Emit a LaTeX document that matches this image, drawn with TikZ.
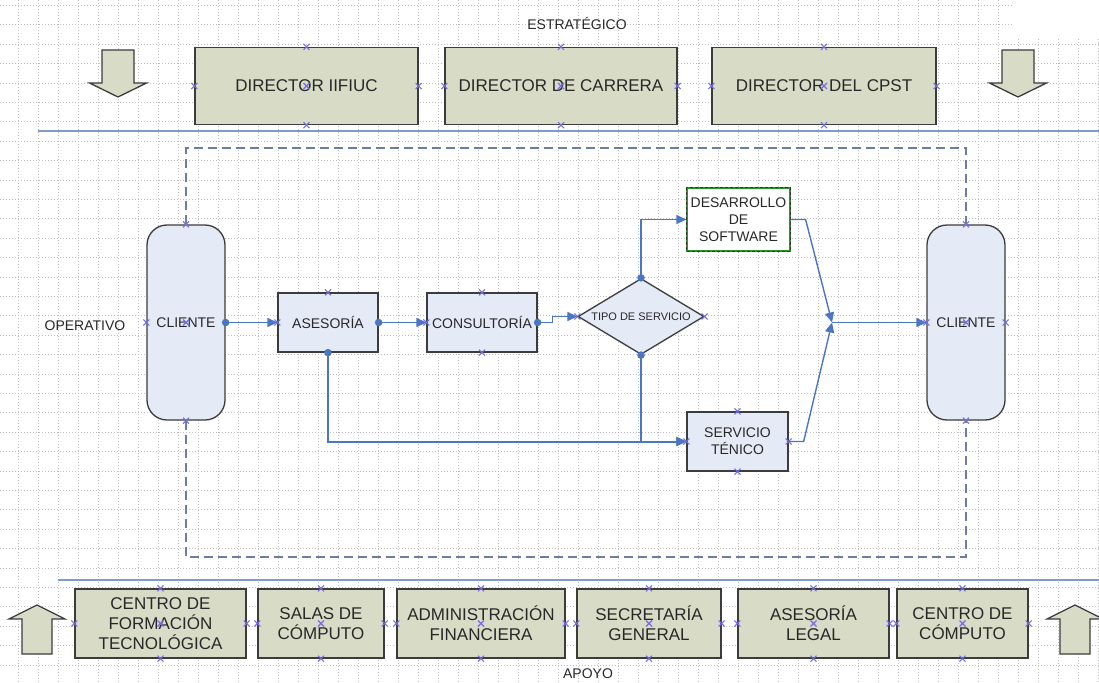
\documentclass[tikz,border=0pt]{standalone}
\usepackage{fontspec}
\setmainfont{Liberation Sans}
\usetikzlibrary{shapes.geometric,arrows.meta}

\definecolor{gridc}{RGB}{190,190,190}
\definecolor{olivef}{RGB}{216,220,198}
\definecolor{procf}{RGB}{228,234,246}
\definecolor{edgec}{RGB}{60,60,60}
\definecolor{txtc}{RGB}{40,40,40}
\definecolor{flowc}{RGB}{74,118,196}
\definecolor{sepc}{RGB}{125,155,205}
\definecolor{dashc}{RGB}{105,125,165}
\definecolor{xcol}{RGB}{115,110,225}
\definecolor{greenc}{RGB}{40,150,40}

\begin{document}
\begin{tikzpicture}[x=1pt,y=-1pt,
  gridline/.style={gridc,line width=0.5pt,dash pattern=on 1pt off 2pt},
  orgbox/.style={draw=edgec,line width=1.3pt,fill=olivef,text=txtc,
    font=\fontsize{17}{20}\selectfont,align=center,inner sep=0pt},
  procbox/.style={draw=edgec,line width=1.3pt,fill=procf,text=txtc,
    font=\fontsize{14}{17}\selectfont,align=center,inner sep=0pt},
  clientbox/.style={procbox,rounded corners=20pt,minimum width=78pt,minimum height=195pt},
  label/.style={text=txtc,font=\fontsize{14}{17}\selectfont},
  flow/.style={draw=flowc,line width=1.4pt},
  arr/.style={-{Triangle[length=10pt,width=9pt]}},
  sepline/.style={draw=sepc,line width=1.5pt},
  frame/.style={draw=dashc,line width=1.4pt,dash pattern=on 9pt off 5pt},
  blockarrow/.style={draw=edgec,line width=1.3pt,fill=olivef,line join=miter},
  cnx/.pic={\draw[xcol,line width=1.1pt] (-3,-3)--(3,3) (-3,3)--(3,-3);}
]
\useasboundingbox (0,0) rectangle (1099,682);
\fill[white] (0,0) rectangle (1099,682);

% background grid
\foreach \i in {0,...,54} \draw[gridline] ({18.3+20*\i},0) -- ({18.3+20*\i},682);
\foreach \j in {0,...,35} \draw[gridline] (0,{5.3+19.4*\j}) -- (1099,{5.3+19.4*\j});
\fill[white] (1012,0) rectangle (1099,37);

% level labels
\node[label] (estr) at (577,23) {ESTRATÉGICO};
\node[label] (oper) at (85,326) {OPERATIVO};
\node[label] (apoyo) at (588,674) {APOYO};

% separator lines
\draw[sepline] (38,131) -- (1099,131);
\draw[sepline] (58,580) -- (1099,580);

% strategic level
\node[orgbox,minimum width=223pt,minimum height=77pt] (dir1) at (306.5,86) {DIRECTOR IIFIUC};
\node[orgbox,minimum width=232pt,minimum height=77pt] (dir2) at (561,86) {DIRECTOR DE CARRERA};
\node[orgbox,minimum width=224pt,minimum height=77pt] (dir3) at (824,86) {DIRECTOR DEL CPST};

% support level
\node[orgbox,minimum width=171pt,minimum height=69pt] (b1) at (160.5,623.5) {CENTRO DE\\FORMACIÓN\\TECNOLÓGICA};
\node[orgbox,minimum width=126pt,minimum height=69pt] (b2) at (321,623.5) {SALAS DE\\CÓMPUTO};
\node[orgbox,minimum width=168pt,minimum height=69pt] (b3) at (481,623.5) {ADMINISTRACIÓN\\FINANCIERA};
\node[orgbox,minimum width=144pt,minimum height=69pt] (b4) at (649,623.5) {SECRETARÍA\\GENERAL};
\node[orgbox,minimum width=151pt,minimum height=69pt] (b5) at (813.5,623.5) {ASESORÍA\\LEGAL};
\node[orgbox,minimum width=131pt,minimum height=69pt] (b6) at (962.5,623.5) {CENTRO DE\\CÓMPUTO};

% block arrows
\draw[blockarrow] (102,50) -- (134,50) -- (134,83) -- (146.5,83) -- (118,97) -- (89.5,83) -- (102,83) -- cycle;
\draw[blockarrow] (1002,50) -- (1034,50) -- (1034,83) -- (1046.5,83) -- (1018,97) -- (989.5,83) -- (1002,83) -- cycle;
\draw[blockarrow] (22,654) -- (52,654) -- (52,619) -- (65,619) -- (37,605) -- (9,619) -- (22,619) -- cycle;
\draw[blockarrow] (1060,654) -- (1090,654) -- (1090,619) -- (1103,619) -- (1075,605) -- (1047,619) -- (1060,619) -- cycle;

% operative level
\node[clientbox] (cli1) at (186,322.5) {CLIENTE};
\node[clientbox] (cli2) at (966,322.5) {CLIENTE};
\node[procbox,minimum width=100pt,minimum height=59pt] (ase) at (328,322.5) {ASESORÍA};
\node[procbox,minimum width=110pt,minimum height=59pt] (con) at (482,322.5) {CONSULTORÍA};
\node[procbox,shape=diamond,aspect=1.66,minimum width=126pt,minimum height=76pt,
      font=\fontsize{11}{13}\selectfont] (tipo) at (641,316.5) {TIPO DE SERVICIO};
\node[procbox,fill=white,draw=greenc,line width=1.2pt,minimum width=103pt,minimum height=63pt] (des) at (738.5,219.5) {DESARROLLO\\DE\\SOFTWARE};
\draw[black!80,line width=1.2pt,dash pattern=on 3pt off 2pt] (des.north west) rectangle (des.south east);
\node[procbox,minimum width=101pt,minimum height=59pt] (serv) at (737.5,441.5) {SERVICIO\\TÉNICO};
\coordinate (m) at (832,322.5);

% dashed frame around the operative flow
\draw[frame] (cli1.north) -- (186,148) -| (cli2.north);
\draw[frame] (cli1.south) -- (186,557) -| (cli2.south);

% flow connectors
\draw[flow,arr] (cli1.east) -- (ase.west);
\draw[flow,arr] (ase.east) -- (con.west);
\draw[flow,arr] (con.east) -- ++(15,0) |- (tipo.west);
\draw[flow,arr] (tipo.north) |- (des.west);
\draw[flow,arr] (tipo.south) |- (serv.west);
\draw[flow,line width=2pt,arr] (ase.south) |- (serv.west);
\draw[flow,arr] (des.east) -- ++(15,0) -- (m);
\draw[flow,arr] (serv.east) -- ++(15,0) -- (m);
\draw[flow,arr] (m) -- (cli2.west);

% connector start dots
\foreach \p in {cli1.east,ase.east,con.east,tipo.north,tipo.south,ase.south}
  \fill[flowc] (\p) circle (3.8pt);

% connection points
\foreach \n in {dir1,dir2,dir3,b1,b2,b3,b4,b5,b6}
  \foreach \a in {north,south,east,west,center}
    \pic at (\n.\a) {cnx};
\foreach \p in {cli1.north,cli1.south,cli1.west,cli1.center,
                cli2.north,cli2.south,cli2.west,cli2.east,cli2.center,
                ase.north,ase.west,con.north,con.south,con.west,
                tipo.west,tipo.east,serv.north,serv.south,serv.west,serv.east}
  \pic at (\p) {cnx};
\end{tikzpicture}
\end{document}
